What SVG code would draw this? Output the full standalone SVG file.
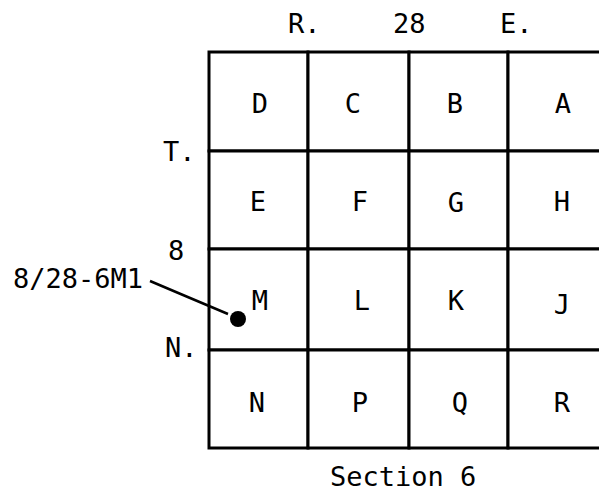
<svg xmlns="http://www.w3.org/2000/svg" width="599" height="496" viewBox="0 0 599 496">
<style>
.cell{fill:#fff;stroke:#000;stroke-width:3}
.t{font-family:"DejaVu Sans Mono","Liberation Mono",monospace;font-size:27px;fill:#000}
.c{text-anchor:middle}
.lead{stroke:#000;stroke-width:2.5;fill:none}
</style>
<rect width="599" height="496" fill="#fff"/>
<g id="labels">
<text class="t" x="288" y="33">R.</text>
<text class="t" x="393" y="33">28</text>
<text class="t" x="500" y="33">E.</text>
<text class="t" x="163" y="161">T.</text>
<text class="t" x="168" y="260">8</text>
<text class="t" x="165" y="357">N.</text>
<text class="t" x="330" y="486">Section 6</text>
</g>
<g id="cell-D"><rect class="cell" x="209" y="52" width="99" height="99"/><text class="t c" x="260" y="113">D</text></g>
<g id="cell-C"><rect class="cell" x="308" y="52" width="101" height="99"/><text class="t c" x="353" y="113">C</text></g>
<g id="cell-B"><rect class="cell" x="409" y="52" width="99" height="99"/><text class="t c" x="455" y="113">B</text></g>
<g id="cell-A"><rect class="cell" x="508" y="52" width="99" height="99"/><text class="t c" x="563" y="113">A</text></g>
<g id="cell-E"><rect class="cell" x="209" y="151" width="99" height="98"/><text class="t c" x="258" y="211">E</text></g>
<g id="cell-F"><rect class="cell" x="308" y="151" width="101" height="98"/><text class="t c" x="360" y="211">F</text></g>
<g id="cell-G"><rect class="cell" x="409" y="151" width="99" height="98"/><text class="t c" x="456" y="212">G</text></g>
<g id="cell-H"><rect class="cell" x="508" y="151" width="99" height="98"/><text class="t c" x="562" y="211">H</text></g>
<g id="cell-M"><rect class="cell" x="209" y="249" width="99" height="101"/><text class="t c" x="260" y="310">M</text></g>
<g id="cell-L"><rect class="cell" x="308" y="249" width="101" height="101"/><text class="t c" x="362" y="310">L</text></g>
<g id="cell-K"><rect class="cell" x="409" y="249" width="99" height="101"/><text class="t c" x="456" y="310">K</text></g>
<g id="cell-J"><rect class="cell" x="508" y="249" width="99" height="101"/><text class="t c" x="562" y="314">J</text></g>
<g id="cell-N"><rect class="cell" x="209" y="350" width="99" height="98"/><text class="t c" x="257" y="412">N</text></g>
<g id="cell-P"><rect class="cell" x="308" y="350" width="101" height="98"/><text class="t c" x="360" y="412">P</text></g>
<g id="cell-Q"><rect class="cell" x="409" y="350" width="99" height="98"/><text class="t c" x="460" y="412">Q</text></g>
<g id="cell-R"><rect class="cell" x="508" y="350" width="99" height="98"/><text class="t c" x="562" y="412">R</text></g>
<g id="well">
<text class="t" x="13" y="288">8/28-6M1</text>
<circle cx="238" cy="319" r="8" fill="#000"/>
</g>
<g id="connectors">
<path class="lead" d="M150,281 L183,295 L228,314"/>
</g>
</svg>
